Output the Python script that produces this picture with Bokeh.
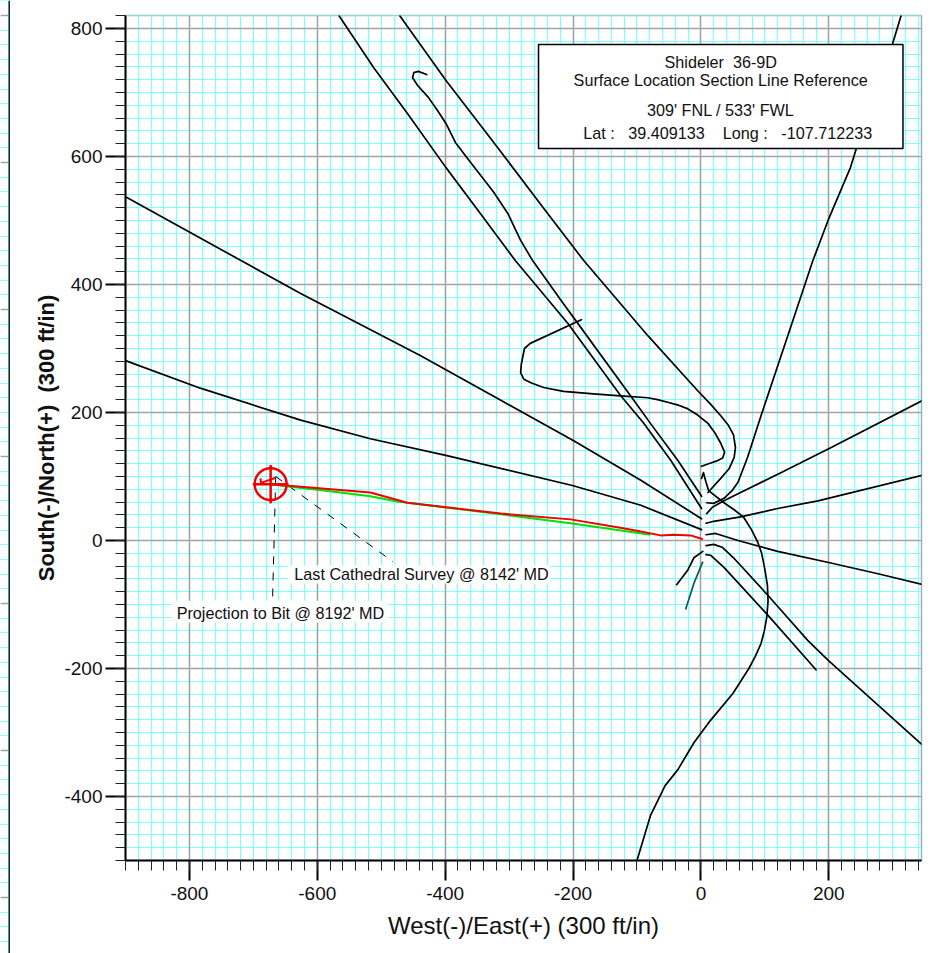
from bokeh.plotting import figure
from bokeh.layouts import row
from bokeh.models import (Range1d, SingleIntervalTicker, FixedTicker, Grid, Span, LinearAxis)
from bokeh.core.properties import value
from bokeh.embed import file_html
from bokeh.resources import INLINE

FONT = "Liberation Sans"

a_x = [-566,-512,-459,-399,-345,-290,-208,-126,-90,-47,1]
a_y = [820,739,667,583,511,437,339,227,184,125,50]
b_x = [-429,-442,-449,-451,-443,-426,-412,-399,-384,-365,-324,-302,-282,-263,-215,-188,-105,-79,-36,1]
b_y = [728,733,731,723,711,692,672,652,622,597,544,511,469,437,370,333,219,183,125,69]
c_x = [-471,-399,-318,-246,-183,-83,-5,15,31,43,51,54,52,44,31,11]
c_y = [820,719,614,519,437,320,234,213,195,180,165,145,130,112,97,75]
d_x = [-900,-626,-439,-313,-199,-94,1]
d_y = [537,386,289,219,156,94,34]
e_x = [-900,-783,-626,-517,-399,-201,-94,1]
e_y = [281,238,188,159,133,86,55,17]
f_x = [8,23,58,120,198,277,347]
f_y = [9,11,0,-17,-34,-52,-69]
g_x = [8,20,62,120,183,347]
g_y = [27,30,37,50,62,102]
h_x = [9,18,36,62,125,203,347]
h_y = [42,52,62,75,106,145,219]
i_x = [9,20,36,48,58,73,94,144,175,200,234,242,300,313]
i_y = [59,58,66,77,91,130,195,344,437,503,583,609,777,820]
j_x = [1,12,24,34,37,31,22,11,-5,-21,-37,-52,-68,-83,-126,-168,-215,-246,-265,-277,-282,-281,-276,-267,-187]
j_y = [116,120,124,129,138,152,168,183,196,206,212,216,220,223,226,229,233,239,246,252,262,275,300,308,345]
k_x = [1,4,8,12,36,52,67,79,89,95,100,104,105,103,99,94,85,75,50,15,-11,-36,-56,-79,-100]
k_y = [97,106,91,78,59,48,36,17,-3,-20,-45,-70,-95,-120,-142,-161,-181,-200,-239,-281,-316,-358,-383,-430,-500]
l_x = [8,20,34,51,105,167,200,347]
l_y = [-8,-6,-11,-27,-86,-156,-188,-320]
m_x = [8,15,36,105,180]
m_y = [-22,-23,-42,-117,-202]
n_x = [3,-11,-21,-38]
n_y = [-17,-27,-47,-69]
teal_x = [3,-11,-24]
teal_y = [-33,-67,-108]
survey_x = [3,-16,-43,-63,-94,-126,-204,-313,-459,-517,-673]
survey_y = [2,8,9,8,14,20,33,42,59,75,88]
plan_x = [-79,-204,-313,-475,-517,-580,-642,-673]
plan_y = [9,27,41,61,69,77,84,88]
tail_x = [-689,-688,-665]
tail_y = [97,90,98]
target = (-673, 88)
leader1_x = [-665,-670]
leader1_y = [100,-94]
leader2_x = [-665,-482]
leader2_y = [100,-33]

box_lrtb = (-254, 316, 775, 612.5)
box_cx = 31
box_lines = ["Shideler\u00a0 36-9D", "Surface Location Section Line Reference", "309' FNL / 533' FWL"]
box_line_y = [747, 719, 673]
lat_text = "Lat :\u00a0\u00a0 39.409133 \u00a0\u00a0 Long :\u00a0\u00a0 -107.712233"
lat_xy = (42, 636)

last_text = "Last Cathedral Survey @ 8142' MD"
last_xy = (-636, -52)
last_bg = (-645, -236, -39, -67)
proj_text = "Projection to Bit @ 8192' MD"
proj_xy = (-820, -113)
proj_bg = (-827, -489, -94, -128)

x_label = "West(-)/East(+) (300 ft/in)"
y_label = "South(-)/North(+)\u00a0 (300 ft/in)"
tick_values = [-800, -600, -400, -200, 0, 200, 400, 600, 800]
tick_labels = {v: str(v) for v in tick_values}

CYAN = "#80ffff"
GRAY = "#a3a3a3"

p = figure(width=929, height=953, output_backend="svg", toolbar_location=None,
           x_range=Range1d(-900, 345), y_range=Range1d(-500, 820.3),
           x_axis_type=None, y_axis_type=None, frame_align=False,
           min_border_left=115, min_border_right=18, min_border_top=15, min_border_bottom=93)
p.outline_line_color = "#9db3b3"
p.outline_line_width = 1.5
p.background_fill_color = "white"
p.grid.visible = False

xt = SingleIntervalTicker(interval=200, num_minor_ticks=10)
yt = SingleIntervalTicker(interval=200, num_minor_ticks=10)
xa = LinearAxis(ticker=xt, axis_label=x_label)
ya = LinearAxis(ticker=yt, axis_label=y_label)
p.add_layout(xa, "below")
p.add_layout(ya, "left")
for ax in (xa, ya):
    ax.axis_line_width = 2
    ax.axis_line_color = "black"
    ax.major_tick_in = 0
    ax.major_tick_out = 20
    ax.major_tick_line_width = 2
    ax.major_tick_line_color = "black"
    ax.minor_tick_in = 0
    ax.minor_tick_out = 10
    ax.minor_tick_line_width = 1
    ax.minor_tick_line_color = "#222222"
    ax.major_label_text_font = FONT
    ax.major_label_text_font_size = "19px"
    ax.major_label_text_color = "#111111"
    ax.major_label_overrides = tick_labels
xa.major_label_standoff = 6
ya.major_label_standoff = 3
xa.axis_label_text_font = FONT
xa.axis_label_text_font_size = "24px"
xa.axis_label_text_font_style = "normal"
xa.axis_label_text_color = "#111111"
xa.axis_label_standoff = 9
ya.axis_label_text_font = FONT
ya.axis_label_text_font_size = "22px"
ya.axis_label_text_font_style = "bold"
ya.axis_label_text_color = "#111111"
ya.axis_label_standoff = 2

for dim in (0, 1):
    p.add_layout(Grid(dimension=dim, ticker=SingleIntervalTicker(interval=20), grid_line_color=CYAN, grid_line_width=1.2))
for dim in (0, 1):
    p.add_layout(Grid(dimension=dim, ticker=SingleIntervalTicker(interval=200), grid_line_color=GRAY, grid_line_width=1.5))

for xs, ys in [(a_x,a_y),(b_x,b_y),(c_x,c_y),(d_x,d_y),(e_x,e_y),(f_x,f_y),(g_x,g_y),(h_x,h_y),
               (i_x,i_y),(j_x,j_y),(k_x,k_y),(l_x,l_y),(m_x,m_y),(n_x,n_y)]:
    p.line(xs, ys, line_color="black", line_width=1.7, line_cap="round", line_join="round")
p.line(teal_x, teal_y, line_color="#0c5a5f", line_width=1.7)

p.line(leader1_x, leader1_y, line_color="black", line_width=1, line_dash="8 8")
p.line(leader2_x, leader2_y, line_color="black", line_width=1, line_dash="8 8")

p.line(plan_x, plan_y, line_color="#00e000", line_width=2)
p.line(survey_x, survey_y, line_color="#f00000", line_width=2)
p.line(tail_x, tail_y, line_color="#f00000", line_width=2)

tx, ty = target
p.circle([tx], [ty], radius=25, fill_color=None, line_color="#f00000", line_width=2.5)
p.line([tx-28, tx+28], [ty, ty], line_color="#f00000", line_width=2.5)
p.line([tx, tx], [ty-30, ty+30], line_color="#f00000", line_width=2.5)

for bg in (last_bg, proj_bg):
    p.quad(left=[bg[0]], right=[bg[1]], top=[bg[2]], bottom=[bg[3]], fill_color="white", line_color=None)
l, r, t, b = box_lrtb
p.quad(left=[l], right=[r], top=[t], bottom=[b], fill_color="white", line_color="black", line_width=1.5)

def txt(x, y, s, align="left", size="16.2px"):
    p.text([x], [y], text=[s], text_font=value(FONT), text_font_size=value(size),
           text_align=align, text_baseline="middle", text_color="#111111")

for s_, y in zip(box_lines, box_line_y):
    txt(box_cx, y, s_, "center")
txt(lat_xy[0], lat_xy[1], lat_text, "center")
txt(last_xy[0], last_xy[1], last_text)
txt(proj_xy[0], proj_xy[1], proj_text)

# sliver of the neighbouring chart at the left edge of the page
s = figure(width=10, height=953, output_backend="svg", toolbar_location=None,
           x_range=Range1d(0, 10), y_range=Range1d(938, -15),
           x_axis_type=None, y_axis_type=None, min_border=0, frame_align=False)
s.outline_line_color = None
s.grid.visible = False
s.add_layout(Grid(dimension=1, ticker=SingleIntervalTicker(interval=14.7), grid_line_color=CYAN, grid_line_width=1.2))
s.add_layout(Grid(dimension=1, ticker=SingleIntervalTicker(interval=147), grid_line_color=GRAY, grid_line_width=1.5))
s.add_layout(Grid(dimension=0, ticker=FixedTicker(ticks=[7.5]), grid_line_color=CYAN, grid_line_width=1))
s.add_layout(Span(location=9, dimension="height", line_color="#1a2626", line_width=2))

page = row(s, p, spacing=0)
open("out.html", "w").write(file_html(page, INLINE))
